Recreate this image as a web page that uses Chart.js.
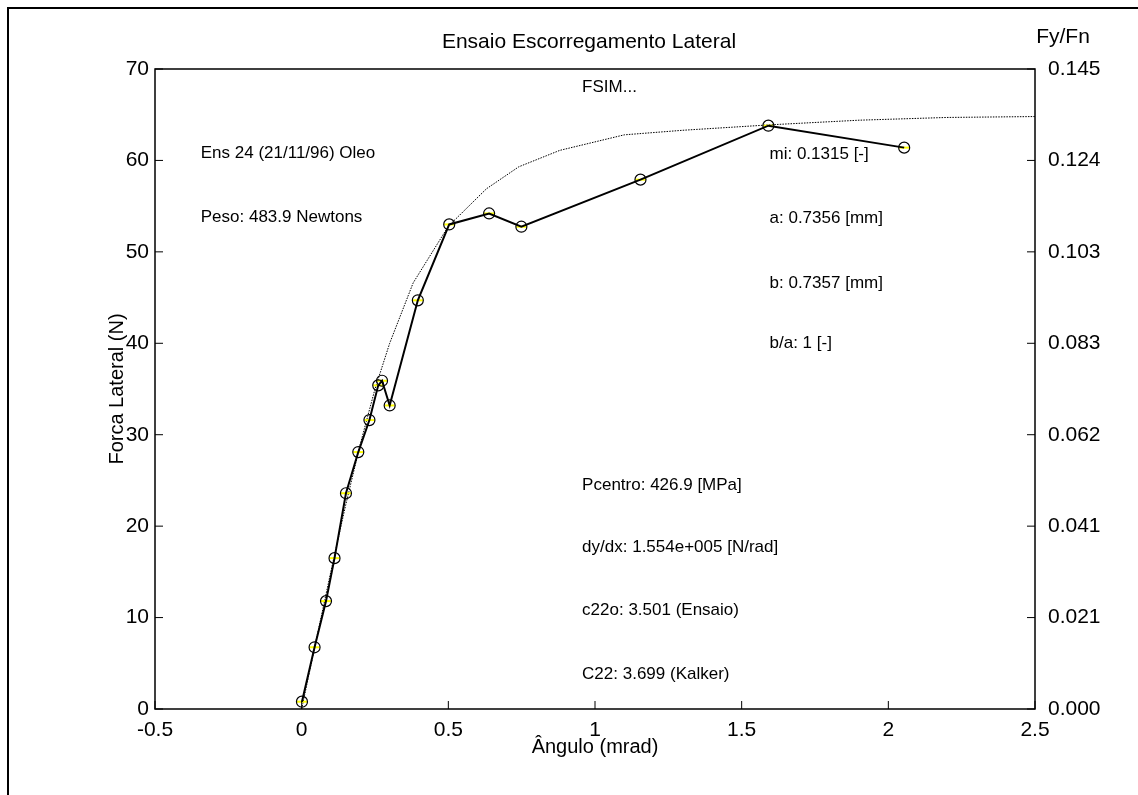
<!DOCTYPE html>
<html>
<head>
<meta charset="utf-8">
<title>Ensaio Escorregamento Lateral</title>
<script src="https://cdn.jsdelivr.net/npm/chart.js@4"></script>
<style>
    html, body { margin: 0; padding: 0; background: #fff; }
    #wrap { width: 1138px; height: 795px; position: relative; }
</style>
</head>
<body>
<div id="wrap"><canvas id="chart" width="1138" height="795"></canvas></div>
<script>
// medidas do ensaio (angulo em mrad, forca em N)
const anguloEnsaio = [0.001, 0.044, 0.083, 0.112, 0.151, 0.193, 0.231, 0.261, 0.274, 0.300, 0.396, 0.503, 0.639, 0.749, 1.155, 1.591, 2.054];
const forcaEnsaio = [0.8, 6.75, 11.8, 16.5, 23.6, 28.1, 31.6, 35.4, 35.9, 33.2, 44.7, 53.0, 54.2, 52.75, 57.9, 63.8, 61.4];

// curva teorica FSIM
const anguloFsim = [0, 0.05, 0.1, 0.15, 0.2, 0.25, 0.3, 0.38, 0.5, 0.63, 0.74, 0.88, 1.1, 1.3, 1.6, 1.9, 2.2, 2.5];
const forcaFsim = [0, 7.6, 15.1, 22.3, 29.0, 35.0, 40.0, 46.6, 52.8, 56.9, 59.3, 61.1, 62.8, 63.3, 63.9, 64.4, 64.7, 64.8];

// eixo da direita (Fy/Fn)
const ticksFyFn = ['0.000', '0.021', '0.041', '0.062', '0.083', '0.103', '0.124', '0.145'];

const textos = [
    { t: 'Ens 24 (21/11/96) Oleo', x: -0.344, y: 60.8 },
    { t: 'Peso: 483.9 Newtons', x: -0.344, y: 53.8 },
    { t: 'FSIM...', x: 0.956, y: 68.0 },
    { t: 'mi: 0.1315 [-]', x: 1.595, y: 60.7 },
    { t: 'a: 0.7356 [mm]', x: 1.595, y: 53.7 },
    { t: 'b: 0.7357 [mm]', x: 1.595, y: 46.6 },
    { t: 'b/a: 1 [-]', x: 1.595, y: 40.0 },
    { t: 'Pcentro: 426.9 [MPa]', x: 0.956, y: 24.5 },
    { t: 'dy/dx: 1.554e+005 [N/rad]', x: 0.956, y: 17.7 },
    { t: 'c22o: 3.501 (Ensaio)', x: 0.956, y: 10.8 },
    { t: 'C22: 3.699 (Kalker)', x: 0.956, y: 3.8 }
];

const fonte = '"Liberation Sans", Arial, sans-serif';

function pares(xs, ys) {
    return xs.map((x, i) => ({ x: x, y: ys[i] }));
}

// moldura, caixa, ticks para dentro e textos
const extras = {
    id: 'extras',
    beforeDraw(chart) {
        const ctx = chart.ctx;
        ctx.save();
        ctx.fillStyle = '#fff';
        ctx.fillRect(0, 0, chart.width, chart.height);
        ctx.strokeStyle = '#000';
        ctx.lineWidth = 2;
        ctx.beginPath();
        ctx.moveTo(8, 795);
        ctx.lineTo(8, 8);
        ctx.lineTo(1138, 8);
        ctx.stroke();
        ctx.restore();
    },
    afterDraw(chart) {
        const ctx = chart.ctx;
        const a = chart.chartArea;
        const sx = chart.scales.x, sy = chart.scales.y, sy2 = chart.scales.y2;
        ctx.save();
        ctx.strokeStyle = '#000';
        ctx.lineWidth = 1.5;
        ctx.strokeRect(a.left, a.top, a.right - a.left, a.bottom - a.top);

        ctx.lineWidth = 1;
        ctx.beginPath();
        const tl = 8;
        sx.ticks.forEach((t, i) => {
            const px = sx.getPixelForTick(i);
            ctx.moveTo(px, a.bottom);
            ctx.lineTo(px, a.bottom - tl);
        });
        sy.ticks.forEach((t, i) => {
            const py = sy.getPixelForTick(i);
            ctx.moveTo(a.left, py);
            ctx.lineTo(a.left + tl, py);
        });
        sy2.ticks.forEach((t, i) => {
            const py = sy2.getPixelForTick(i);
            ctx.moveTo(a.right, py);
            ctx.lineTo(a.right - tl, py);
        });
        ctx.stroke();

        ctx.fillStyle = '#000';
        ctx.textBaseline = 'middle';
        ctx.textAlign = 'center';
        ctx.font = '21px ' + fonte;
        ctx.fillText('Ensaio Escorregamento Lateral', 589, 42);
        ctx.fillText('Fy/Fn', 1063, 37);

        ctx.textAlign = 'left';
        ctx.font = '17px ' + fonte;
        textos.forEach(o => {
            ctx.fillText(o.t, sx.getPixelForValue(o.x), sy.getPixelForValue(o.y));
        });
        ctx.restore();
    }
};

const ctx = document.getElementById('chart').getContext('2d');
const grafico = new Chart(ctx, {
    type: 'scatter',
    data: {
        datasets: [
            {
                label: 'Ensaio',
                data: pares(anguloEnsaio, forcaEnsaio),
                showLine: true,
                borderColor: '#000',
                borderWidth: 2,
                pointStyle: 'circle',
                pointRadius: 5.5,
                pointBorderWidth: 1.2,
                pointBorderColor: '#000',
                pointBackgroundColor: 'rgba(0,0,0,0)',
                yAxisID: 'y'
            },
            {
                label: 'marcador',
                data: pares(anguloEnsaio, forcaEnsaio),
                showLine: false,
                pointStyle: 'line',
                pointRadius: 5,
                pointBorderWidth: 2,
                pointBorderColor: '#ffff00',
                yAxisID: 'y'
            },
            {
                label: 'FSIM',
                data: pares(anguloFsim, forcaFsim),
                showLine: true,
                borderColor: '#000',
                borderWidth: 1,
                borderDash: [1.5, 1.2],
                pointRadius: 0,
                yAxisID: 'y'
            }
        ]
    },
    options: {
        responsive: false,
        animation: false,
        events: [],
        layout: { padding: { top: 69, left: 0, right: 0, bottom: 0 } },
        plugins: {
            legend: { display: false },
            tooltip: { enabled: false }
        },
        scales: {
            x: {
                type: 'linear',
                min: -0.5,
                max: 2.5,
                afterFit: s => { s.height = 86; },
                grid: { display: false, drawTicks: false },
                border: { display: false },
                ticks: {
                    stepSize: 0.5,
                    padding: 9,
                    color: '#000',
                    maxRotation: 0,
                    font: { family: fonte, size: 21 },
                    callback: v => String(v)
                },
                title: {
                    display: true,
                    text: 'Ângulo (mrad)',
                    color: '#000',
                    font: { family: fonte, size: 20 },
                    padding: { top: 0, bottom: 36 }
                }
            },
            y: {
                position: 'left',
                min: 0,
                max: 70,
                afterFit: s => { s.width = 155; },
                grid: { display: false, drawTicks: false },
                border: { display: false },
                ticks: {
                    stepSize: 10,
                    padding: 6,
                    color: '#000',
                    font: { family: fonte, size: 21 }
                },
                title: {
                    display: true,
                    text: 'Forca Lateral (N)',
                    color: '#000',
                    font: { family: fonte, size: 20 },
                    padding: { top: 105, bottom: 0 }
                }
            },
            y2: {
                position: 'right',
                min: 0,
                max: 70,
                afterFit: s => { s.width = 103; },
                grid: { display: false, drawTicks: false },
                border: { display: false },
                ticks: {
                    stepSize: 10,
                    padding: 13,
                    color: '#000',
                    font: { family: fonte, size: 21 },
                    callback: (v, i) => ticksFyFn[i]
                }
            }
        }
    },
    plugins: [extras]
});
</script>
</body>
</html>
